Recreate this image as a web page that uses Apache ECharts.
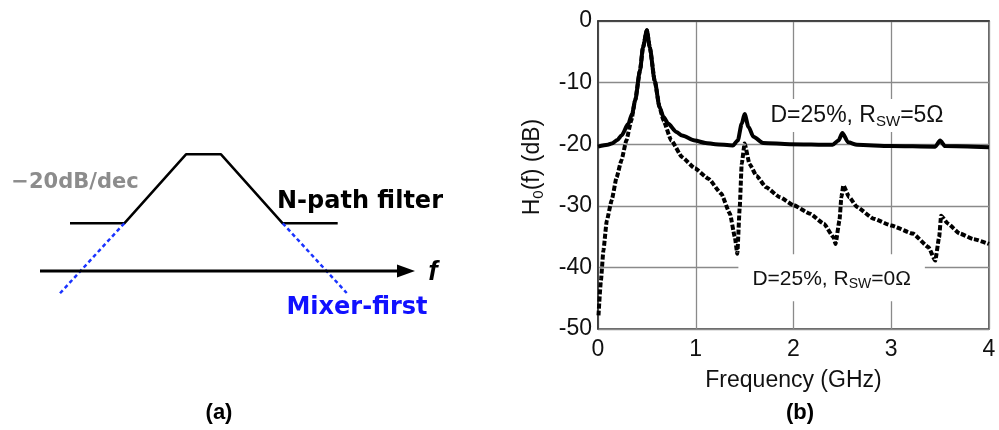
<!DOCTYPE html>
<html>
<head>
<meta charset="utf-8">
<title>N-path filter / mixer-first response</title>
<script src="https://cdn.jsdelivr.net/npm/echarts@6/dist/echarts.min.js"></script>
<style>
html,body{margin:0;padding:0;background:#fff;}
#main{width:999px;height:430px;}
</style>
</head>
<body>
<div id="main"></div>
<script>
// ---- (a) sketch, in sketch units (x ~ log f, y ~ gain) ----
var nPathX = [7.0, 12.43, 18.6, 22.1, 28.27, 33.77];
var nPathY = [10.67, 10.67, 17.57, 17.57, 10.67, 10.67];
var mixLeftX = [12.43, 6.0];
var mixLeftY = [10.67, 3.67];
var mixRightX = [28.27, 34.67];
var mixRightY = [10.67, 3.7];
var fAxisX = [4.0, 40.6];
var fAxisY = [5.9, 5.9];

// ---- (b) H0(f) in dB vs frequency in GHz ----
var freq5 = [0.00, 0.10, 0.14, 0.20, 0.24, 0.31, 0.35, 0.38, 0.43, 0.46, 0.50, 0.53, 0.58, 0.63, 0.67, 0.72, 0.80, 0.86, 0.99, 1.10,
             1.20, 1.38, 1.43, 1.47, 1.50, 1.54, 1.59, 1.69, 1.96, 2.40, 2.46, 2.50, 2.56, 2.65, 2.99, 3.45, 3.50, 3.55, 4.00];
var db5   = [-20.4, -20.1, -19.9, -19.3, -18.6, -16.7, -15.0, -12.9, -8.0, -4.3, -1.5, -4.3, -9.7, -14.0, -15.6, -16.7, -18.0, -18.6, -19.4, -19.8,
             -20.0, -20.2, -19.4, -16.7, -15.1, -17.2, -18.8, -19.8, -20.0, -20.1, -19.4, -18.2, -19.7, -20.1, -20.3, -20.4, -19.4, -20.3, -20.5];
var freq0 = [0.005, 0.03, 0.055, 0.09, 0.14, 0.19, 0.24, 0.29, 0.34, 0.38, 0.43, 0.46, 0.50, 0.53, 0.58, 0.63, 0.67, 0.75, 0.86, 0.99,
             1.13, 1.26, 1.35, 1.40, 1.425, 1.45, 1.47, 1.50, 1.55, 1.62, 1.72, 1.86, 2.00, 2.17, 2.31, 2.41, 2.43, 2.47, 2.49, 2.51,
             2.57, 2.65, 2.82, 3.00, 3.22, 3.38, 3.45, 3.49, 3.51, 3.58, 3.70, 3.84, 4.00];
var db0   = [-47.8, -42.1, -37.3, -32.4, -29.1, -25.4, -22.6, -19.4, -16.2, -12.9, -8.0, -4.3, -1.5, -4.3, -9.7, -14.0, -16.2, -19.4, -22.1, -23.9,
             -25.6, -28.0, -31.3, -35.1, -37.8, -30.2, -23.2, -19.9, -23.2, -25.1, -27.0, -28.6, -29.9, -31.3, -32.9, -35.1, -36.2, -32.4, -28.6, -26.7,
             -28.6, -30.2, -32.1, -33.2, -34.5, -36.7, -38.9, -35.1, -31.6, -32.9, -34.5, -35.4, -36.2];

var annotX = [2.65, 2.39];
var annotY = [-15.35, -41.7];
var annotText = ['D=25%, R{s|SW}=5Ω', 'D=25%, R{s|SW}=0Ω'];

var sans = '"Liberation Sans", Arial, sans-serif';
var wide = '"DejaVu Sans", Verdana, sans-serif';
var ink = '#111';

function pairs(xs, ys) {
    return xs.map(function (x, i) { return [x, ys[i]]; });
}

var myChart = echarts.init(document.getElementById('main'));

var annotData = annotX.map(function (x, i) {
    var big = i === 0;
    return {
        value: [x, annotY[i]],
        label: {
            show: true,
            position: 'inside',
            formatter: annotText[i],
            color: ink,
            opacity: 1,
            fontFamily: sans,
            fontSize: big ? 23 : 21,
            lineHeight: big ? 27 : 25,
            backgroundColor: '#fff',
            padding: big ? [3, 8, 3, 8] : [12, 14, 10, 14],
            rich: {
                s: { fontSize: big ? 15 : 14, lineHeight: big ? 15 : 14, verticalAlign: 'bottom', color: ink, fontFamily: sans }
            }
        }
    };
});

var option = {
    animation: false,
    backgroundColor: '#fff',
    grid: [
        { left: 0, top: 130, width: 460, height: 200, show: false },
        { left: 598, top: 21, width: 391, height: 308, show: true, borderColor: '#333', borderWidth: 1.5 }
    ],
    xAxis: [
        { gridIndex: 0, type: 'value', min: 0, max: 46, show: false },
        {
            gridIndex: 1, type: 'value', min: 0, max: 4, interval: 1,
            name: 'Frequency (GHz)', nameLocation: 'middle', nameGap: 40,
            nameTextStyle: { color: ink, fontSize: 23, fontFamily: sans },
            axisLine: { lineStyle: { color: '#333', width: 1.5 } },
            axisTick: { show: false },
            axisLabel: { color: ink, fontSize: 23, fontFamily: sans, margin: 9 },
            splitLine: { lineStyle: { color: '#8a8a8a', width: 1.3 } }
        }
    ],
    yAxis: [
        { gridIndex: 0, type: 'value', min: 0, max: 20, show: false },
        {
            gridIndex: 1, type: 'value', min: -50, max: 0, interval: 10,
            name: 'H{s|0}(f) (dB)', nameLocation: 'middle', nameGap: 52,
            nameTextStyle: {
                color: ink, fontSize: 23, fontFamily: sans, lineHeight: 27,
                padding: [0, 0, 0, 16],
                rich: { s: { fontSize: 15, lineHeight: 15, verticalAlign: 'bottom', color: ink, fontFamily: sans } }
            },
            axisLine: { lineStyle: { color: '#333', width: 1.5 } },
            axisTick: { show: false },
            axisLabel: { color: ink, fontSize: 23, fontFamily: sans, margin: 6 },
            splitLine: { lineStyle: { color: '#8a8a8a', width: 1.3 } }
        }
    ],
    graphic: [
        { type: 'text', x: 75, y: 183, style: { text: '\u221220dB/dec', font: 'bold 21px ' + wide, fill: '#8c8c8c', align: 'center', verticalAlign: 'middle' } },
        { type: 'text', x: 360, y: 202, style: { text: 'N-path filter', font: 'bold 24px ' + wide, fill: '#000', align: 'center', verticalAlign: 'middle' } },
        { type: 'text', x: 357, y: 308, style: { text: 'Mixer-first', font: 'bold 24px ' + wide, fill: '#1111ff', align: 'center', verticalAlign: 'middle' } },
        { type: 'text', x: 433, y: 272, style: { text: 'f', font: 'italic bold 28px ' + sans, fill: '#000', align: 'center', verticalAlign: 'middle' } },
        { type: 'text', x: 219, y: 413, style: { text: '(a)', font: 'bold 22px ' + sans, fill: '#000', align: 'center', verticalAlign: 'middle' } },
        { type: 'text', x: 800, y: 413, style: { text: '(b)', font: 'bold 22px ' + sans, fill: '#000', align: 'center', verticalAlign: 'middle' } }
    ],
    series: [
        {
            name: 'N-path', type: 'line', xAxisIndex: 0, yAxisIndex: 0,
            data: pairs(nPathX, nPathY), symbol: 'none',
            lineStyle: { color: '#000', width: 2.5 }
        },
        {
            name: 'mixer-L', type: 'line', xAxisIndex: 0, yAxisIndex: 0,
            data: pairs(mixLeftX, mixLeftY), symbol: 'none',
            lineStyle: { color: '#1a33ff', width: 2.5, type: [4, 3] }
        },
        {
            name: 'mixer-R', type: 'line', xAxisIndex: 0, yAxisIndex: 0,
            data: pairs(mixRightX, mixRightY), symbol: 'none',
            lineStyle: { color: '#1a33ff', width: 2.5, type: [4, 3] }
        },
        {
            name: 'f axis', type: 'line', xAxisIndex: 0, yAxisIndex: 0,
            data: [
                { value: [fAxisX[0], fAxisY[0]], symbol: 'none' },
                { value: [fAxisX[1], fAxisY[1]], symbol: 'path://M0,0L10,5L0,10Z', symbolSize: [18, 13] }
            ],
            showSymbol: true,
            itemStyle: { color: '#000' },
            lineStyle: { color: '#000', width: 3 }
        },
        {
            name: 'Rsw=5', type: 'line', xAxisIndex: 1, yAxisIndex: 1,
            data: pairs(freq5, db5), symbol: 'none', z: 4,
            smooth: 0.25, smoothMonotone: 'x',
            lineStyle: { color: '#000', width: 4 }
        },
        {
            name: 'Rsw=0', type: 'line', xAxisIndex: 1, yAxisIndex: 1,
            data: pairs(freq0, db0), symbol: 'none', z: 5,
            smooth: 0.15, smoothMonotone: 'x',
            lineStyle: { color: '#000', width: 4, type: [5, 2] }
        },
        {
            name: 'notes', type: 'scatter', xAxisIndex: 1, yAxisIndex: 1,
            symbolSize: 0, z: 1, silent: true,
            itemStyle: { opacity: 1 },
            data: annotData
        }
    ]
};

myChart.setOption(option);
</script>
</body>
</html>
